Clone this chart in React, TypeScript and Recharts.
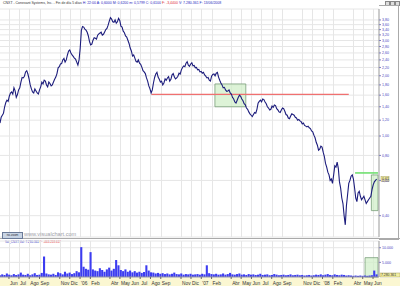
import {
  ComposedChart,
  Line,
  Bar,
  XAxis,
  YAxis,
  CartesianGrid,
  ReferenceLine,
  ReferenceArea,
} from 'recharts'

// first weekly bar is 2005-05-05, one value per week up to 2008-06-13
const START = Date.UTC(2005, 4, 5)
const DAY = 86400000
const LAST_DAY = 1141

const closes = [
  1.16, 1.27, 1.4, 1.51, 1.58, 1.66, 1.74, 1.56, 1.7, 1.86,
  1.95, 2.09, 2.04, 1.8, 1.66, 1.72, 1.64, 1.7, 1.86, 1.9,
  1.8, 1.86, 1.78, 1.86, 1.97, 2.19, 2.29, 2.4, 2.34, 2.54,
  2.69, 2.54, 2.45, 2.34, 2.4, 3.38, 3.5, 3.38, 3.16, 2.85,
  3.01, 3.08, 3.19, 3.27, 3.19, 3.31, 3.45, 3.75, 3.84, 3.7,
  3.66, 3.87, 3.54, 3.34, 3.16, 3.01, 2.75, 2.51, 2.45, 2.34,
  2.31, 2.21, 2.09, 1.95, 1.78, 1.64, 1.84, 2.04, 1.97, 1.86,
  1.8, 1.93, 1.95, 1.88, 2.02, 1.97, 1.95, 2.06, 2.14, 2.24,
  2.31, 2.26, 2.29, 2.24, 2.19, 2.14, 2.09, 2.06, 2.02, 1.95,
  1.9, 1.99, 2.04, 2.06, 1.97, 1.84, 1.74, 1.7, 1.68, 1.64,
  1.56, 1.48, 1.51, 1.6, 1.53, 1.45, 1.38, 1.32, 1.27, 1.28,
  1.3, 1.46, 1.51, 1.53, 1.48, 1.4, 1.35, 1.41, 1.43, 1.37,
  1.32, 1.35, 1.37, 1.28, 1.23, 1.26, 1.28, 1.24, 1.2, 1.19,
  1.15, 1.13, 1.11, 1.1, 1.06, 1.01, 0.93, 0.85, 0.89, 0.83,
  0.73, 0.66, 0.6, 0.58, 0.71, 0.74, 0.59, 0.49, 0.4, 0.45,
  0.58, 0.63, 0.61, 0.49, 0.52, 0.5, 0.49, 0.48, 0.47, 0.49,
  0.54, 0.59, 0.61,
]

// closes read half way through each week
const midweek = [
  1.24, 1.3, 1.47, 1.49, 1.64, 1.62, 1.68, 1.61, 1.74, 1.96,
  1.99, 2.12, 1.93, 1.72, 1.64, 1.68, 1.62, 1.76, 1.82, 1.88,
  1.76, 1.83, 1.8, 1.92, 2.05, 2.22, 2.3, 2.44, 2.4, 2.66,
  2.6, 2.5, 2.42, 2.26, 2.75, 3.52, 3.42, 3.3, 2.96, 2.88,
  3.1, 3.05, 3.24, 3.3, 3.22, 3.4, 3.58, 3.9, 3.72, 3.8,
  3.72, 3.78, 3.5, 3.28, 3.12, 2.9, 2.66, 2.54, 2.36, 2.4,
  2.28, 2.12, 2.05, 1.88, 1.72, 1.7, 1.96, 2.08, 1.92, 1.88,
  1.84, 1.9, 1.98, 1.92, 2.05, 1.93, 1.99, 2.04, 2.2, 2.22,
  2.35, 2.23, 2.32, 2.25, 2.2, 2.15, 2.1, 2.08, 1.99, 1.96,
  1.88, 2.03, 2.0, 2.08, 1.9, 1.8, 1.75, 1.67, 1.7, 1.62,
  1.53, 1.46, 1.56, 1.58, 1.5, 1.43, 1.36, 1.29, 1.25, 1.31,
  1.36, 1.49, 1.48, 1.52, 1.45, 1.38, 1.36, 1.39, 1.42, 1.35,
  1.31, 1.38, 1.33, 1.27, 1.22, 1.29, 1.27, 1.23, 1.21, 1.18,
  1.16, 1.12, 1.12, 1.09, 1.05, 0.98, 0.9, 0.86, 0.88, 0.79,
  0.7, 0.64, 0.61, 0.64, 0.7, 0.69, 0.55, 0.46, 0.36, 0.51,
  0.6, 0.64, 0.55, 0.47, 0.53, 0.48, 0.5, 0.46, 0.48, 0.5,
  0.57, 0.6,
]

// volume in thousands of shares
const volumes = [
  600, 900, 700, 1200, 800, 600, 1000, 700, 900, 1500,
  800, 700, 1100, 600, 900, 1300, 700, 800, 1400, 7000,
  1200, 900, 800, 1100, 700, 1600, 1300, 900, 1800, 1200,
  1500, 1000, 1300, 2000, 1600, 10200, 3500, 2800, 2500, 8500,
  2600, 2200, 2000, 3000, 2400, 1800, 2600, 3200, 2200, 2800,
  5800, 4000, 2400, 2000, 2600, 1800, 2200, 1600, 2000, 1500,
  1800, 1400, 1700, 4000, 2200, 1600, 1500, 1200, 1400, 1100,
  1300, 1000, 1200, 900, 1100, 1500, 1000, 900, 1200, 800,
  1000, 900, 1100, 800, 900, 1000, 800, 1100, 900, 4000,
  1300, 1000, 900, 1100, 800, 900, 1200, 800, 1000, 1400,
  900, 800, 1000, 1200, 800, 900, 700, 1000, 800, 900,
  700, 800, 1100, 700, 800, 900, 600, 700, 1000, 800,
  600, 700, 800, 600, 700, 900, 600, 700, 800, 600,
  700, 500, 600, 700, 500, 600, 800, 700, 900, 600,
  800, 1000, 700, 600, 900, 700, 600, 800, 700, 500,
  600, 500, 400, 500, 400, 500, 400, 500, 400, 500,
  600, 2200, 900,
]

const monthDates = [
  '2005-06-01', '2005-07-01', '2005-08-01', '2005-09-01', '2005-11-01', '2005-12-01',
  '2006-01-01', '2006-02-01', '2006-04-01', '2006-05-01', '2006-06-01', '2006-07-01',
  '2006-08-01', '2006-09-01', '2006-11-01', '2006-12-01', '2007-01-01', '2007-02-01',
  '2007-04-01', '2007-05-01', '2007-06-01', '2007-07-01', '2007-08-01', '2007-09-01',
  '2007-11-01', '2007-12-01', '2008-01-01', '2008-02-01', '2008-04-01', '2008-05-01',
  '2008-06-01',
]
const monthLabels = [
  'Jun', 'Jul', 'Ago', 'Sep', 'Nov', 'Dic',
  "'06", 'Feb', 'Abr', 'May', 'Jun', 'Jul',
  'Ago', 'Sep', 'Nov', 'Dic', "'07", 'Feb',
  'Abr', 'May', 'Jun', 'Jul', 'Ago', 'Sep',
  'Nov', 'Dic', "'08", 'Feb', 'Abr', 'May',
  'Jun',
]

const priceTicks = [0.4, 0.6, 0.8, 1.0, 1.2, 1.4, 1.6, 1.8, 2.0, 2.2, 2.4, 2.6, 2.8, 3.0, 3.2, 3.4, 3.6, 3.8]
const volumeTicks = [5000, 10000]

// drawn annotations
const redLine = { from: '2006-08-04', to: '2008-03-20', price: 1.615 }
const greenLine = { from: '2008-04-08', to: '2008-06-16', price: 0.654 }
const zoneA = { from: '2007-02-11', to: '2007-05-15', low: 1.4, high: 1.82 }
const zoneB = { from: '2008-05-27', to: '2008-06-16', low: 0.424, high: 0.639 }
const volZone = { from: '2008-05-08', to: '2008-06-16', high: 6600 }
const lastClose = 0.61

const dayOf = (s: string) => (Date.parse(s) - START) / DAY
const monthTicks = monthDates.map(dayOf)
const labelByDay: Record<number, string> = Object.fromEntries(monthTicks.map((d, i) => [d, monthLabels[i]]))

const priceData = closes.flatMap((c, i) =>
  i < midweek.length
    ? [
        { day: i * 7, close: c },
        { day: i * 7 + 3.5, close: midweek[i] },
      ]
    : [{ day: i * 7, close: c }]
)
const volData = volumes.map((v, i) => ({ day: i * 7, vol: v }))

const FONT = '"Liberation Sans", "DejaVu Sans", sans-serif'

// month grid lines: same linear mapping as the x axis domain [0, LAST_DAY]
const monthGrid = ({ offset }: any) =>
  monthTicks.map((d) => Math.round(offset.left + (d / LAST_DAY) * offset.width) + 0.5)

function DateTick({ x, y, payload }: any) {
  return (
    <text x={x + 1} y={y + 4} fontSize={4.8} fill="#333" fontFamily={FONT} textAnchor="start">
      {labelByDay[payload.value]}
    </text>
  )
}

function PriceBox({ viewBox }: any) {
  const x = viewBox.x + viewBox.width + 2
  const y = viewBox.y
  return (
    <g>
      <rect x={x} y={y - 2.5} width={8} height={5} fill="#f2eea0" stroke="#a8a060" strokeWidth={0.5} />
      <text x={x + 1} y={y + 1.4} fontSize={3.6} fill="#333" fontFamily={FONT}>
        {lastClose.toFixed(2).replace('.', ',')}
      </text>
    </g>
  )
}

function VolBox({ viewBox }: any) {
  const x = viewBox.x + viewBox.width + 1
  const y = viewBox.y
  return (
    <g>
      <rect x={x} y={y - 4} width={20} height={4} fill="#f2eea0" stroke="#a8a060" strokeWidth={0.5} />
      <text x={x + 1} y={y - 0.8} fontSize={3.4} fill="#333" fontFamily={FONT}>
        7.280.361
      </text>
    </g>
  )
}

export default function App() {
  return (
    <div
      style={{
        position: 'absolute',
        top: 0,
        left: 0,
        width: 400,
        height: 286,
        background: '#fff',
        overflow: 'hidden',
        fontFamily: FONT,
      }}
    >
      {/* header */}
      <div style={{ position: 'absolute', top: 1, left: 3, fontSize: 3.5, lineHeight: '5px', whiteSpace: 'nowrap', color: '#333' }}>
        CNXT - Conexant Systems, Inc. - Fin de día 5 días{' '}
        <span style={{ color: '#2a2ac0' }}>H: 22:00 A: 0,6000 M: 0,6200 m: 0,5799 C: 0,6100</span>{' '}
        <span style={{ color: '#e03030' }}>F: -3,4400</span>{' '}
        <span style={{ color: '#2a2ac0' }}>V: 7.280.361 F: 13/06/2008</span>
      </div>
      {/* window buttons */}
      {[385, 390, 395].map((x) => (
        <div
          key={x}
          style={{ position: 'absolute', top: 1, left: x, width: 3, height: 3, border: '0.5px solid #888', background: '#ddd' }}
        />
      ))}
      {/* axis frames */}
      <div style={{ position: 'absolute', top: 5, left: 379, width: 19, height: 233, border: '1px solid #aaa', borderLeft: 'none' }} />
      <div style={{ position: 'absolute', top: 238, left: 0, width: 400, height: 1, background: '#aaa' }} />
      <div style={{ position: 'absolute', top: 278, left: 0, width: 400, height: 8, background: '#fbf7d2' }} />

      <div style={{ position: 'absolute', top: 0, left: 0 }}>
        <ComposedChart width={400} height={239} data={priceData} margin={{ top: 9, right: 0, bottom: 2, left: 0 }}>
          <CartesianGrid stroke="#e6e6e6" strokeWidth={1} verticalCoordinatesGenerator={monthGrid} />
          <XAxis
            type="number"
            dataKey="day"
            domain={[0, LAST_DAY]}
            ticks={monthTicks}
            interval={0}
            allowDataOverflow
            height={0}
            tick={false}
            tickLine={false}
            axisLine={false}
          />
          <YAxis
            orientation="right"
            scale="log"
            domain={[0.313, 4.31]}
            allowDataOverflow
            ticks={priceTicks}
            interval={0}
            width={21}
            tickSize={2}
            tickMargin={1}
            axisLine={{ stroke: '#999' }}
            tickLine={{ stroke: '#8080c0' }}
            tick={{ fontSize: 3.6, fill: '#4848c0', fontFamily: FONT }}
            tickFormatter={(v: number) => v.toFixed(2).replace('.', ',')}
          />
          <ReferenceArea
            x1={dayOf(zoneA.from)}
            x2={dayOf(zoneA.to)}
            y1={zoneA.low}
            y2={zoneA.high}
            fill="#cfeec6"
            fillOpacity={0.7}
            stroke="#7a9e7a"
            strokeWidth={0.8}
          />
          <ReferenceArea
            x1={dayOf(zoneB.from)}
            x2={dayOf(zoneB.to)}
            y1={zoneB.low}
            y2={zoneB.high}
            fill="#cfeec6"
            fillOpacity={0.7}
            stroke="#7a9e7a"
            strokeWidth={0.8}
          />
          <ReferenceLine
            segment={[
              { x: dayOf(redLine.from), y: redLine.price },
              { x: dayOf(redLine.to), y: redLine.price },
            ]}
            stroke="#f07070"
            strokeWidth={1.4}
          />
          <ReferenceLine
            segment={[
              { x: dayOf(greenLine.from), y: greenLine.price },
              { x: dayOf(greenLine.to), y: greenLine.price },
            ]}
            stroke="#70e070"
            strokeWidth={1.6}
          />
          <Line
            dataKey="close"
            stroke="#1c1c7c"
            strokeWidth={1.1}
            dot={false}
            isAnimationActive={false}
          />
          <ReferenceLine y={lastClose} stroke="none" label={<PriceBox />} />
        </ComposedChart>
      </div>

      {/* volume panel */}
      <div style={{ position: 'absolute', top: 240, left: 5, fontSize: 3, lineHeight: '4px', whiteSpace: 'nowrap', color: '#2a2ac0' }}>
        Vol_CNXT Vol: 7.280.361 <span style={{ color: '#e03030' }}>F: -463.218.617</span>
      </div>
      <div style={{ position: 'absolute', top: 239, left: 0 }}>
        <ComposedChart width={400} height={47} data={volData} margin={{ top: 2, right: 0, bottom: 0, left: 0 }}>
          <CartesianGrid stroke="#e6e6e6" strokeWidth={1} verticalCoordinatesGenerator={monthGrid} />
          <XAxis
            type="number"
            dataKey="day"
            domain={[0, LAST_DAY]}
            ticks={monthTicks}
            interval={0}
            allowDataOverflow
            height={9}
            tickSize={2}
            axisLine={{ stroke: '#999' }}
            tickLine={{ stroke: '#666' }}
            tick={<DateTick />}
          />
          <YAxis
            orientation="right"
            domain={[0, 12300]}
            allowDataOverflow
            ticks={volumeTicks}
            interval={0}
            width={21}
            tickSize={2}
            tickMargin={1}
            axisLine={{ stroke: '#999' }}
            tickLine={{ stroke: '#8080c0' }}
            tick={{ fontSize: 3.6, fill: '#4848c0', fontFamily: FONT }}
            tickFormatter={(v: number) => v.toLocaleString('de-DE')}
          />
          <ReferenceArea
            x1={dayOf(volZone.from)}
            x2={dayOf(volZone.to)}
            y1={0}
            y2={volZone.high}
            fill="#cfeec6"
            fillOpacity={0.7}
            stroke="#7a9e7a"
            strokeWidth={0.8}
          />
          <Bar dataKey="vol" fill="#3c3cf0" barSize={2.5} isAnimationActive={false} />
          <ReferenceLine y={0} stroke="none" label={<VolBox />} />
        </ComposedChart>
      </div>

      {/* watermark */}
      <div
        style={{
          position: 'absolute',
          top: 232,
          left: 2,
          width: 19,
          height: 5,
          background: '#c8d4e4',
          border: '0.5px solid #6a7a98',
          fontSize: 3,
          lineHeight: '5px',
          textAlign: 'center',
          color: '#334',
        }}
      >
        no-zoom
      </div>
      <div style={{ position: 'absolute', top: 231, left: 24, fontSize: 5.6, lineHeight: '7px', color: '#a0a0a8' }}>
        www.visualchart.com
      </div>
    </div>
  )
}
